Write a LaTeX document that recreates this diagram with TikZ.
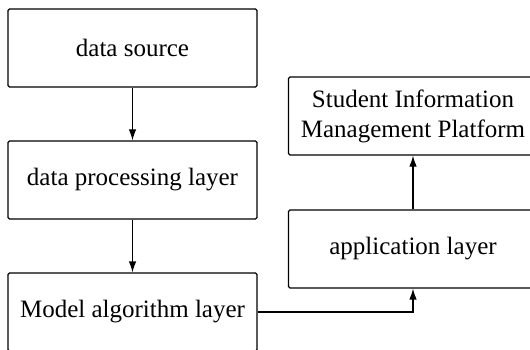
\documentclass[tikz,border=0pt]{standalone}
\usepackage{fontspec}
\setmainfont{Liberation Serif}
\usetikzlibrary{arrows.meta}

\begin{document}
\begin{tikzpicture}[
    x=1pt,
    y=-1pt,
    layer/.style={
        draw,
        line width=1.2pt,
        rounded corners=1.5pt,
        minimum width=249pt,
        minimum height=78pt,
        align=center,
        inner sep=0pt,
        font=\fontsize{25}{30}\selectfont
    },
    link/.style={
        line width=1.2pt,
        -{Latex[length=11pt,width=7.5pt]}
    }
]
\clip (0,0) rectangle (530,350);

% =====================
% Columna izquierda
% =====================
\node[layer] (source)  at (132.5,48)  {data source};
\node[layer] (process) at (132.5,180) {data processing layer};
\node[layer] (model)   at (132.5,312) {Model algorithm layer};

% =====================
% Columna derecha
% =====================
\node[layer] (platform) at (413,116) {Student Information\\Management Platform};
\node[layer] (app)      at (413,249) {application layer};

% =====================
% Flechas
% =====================
\draw[link] (source) -- (process);
\draw[link] (process) -- (model);
\draw[link] (model.east) -| (app.south);
\draw[link] (app) -- (platform);

\end{tikzpicture}
\end{document}
